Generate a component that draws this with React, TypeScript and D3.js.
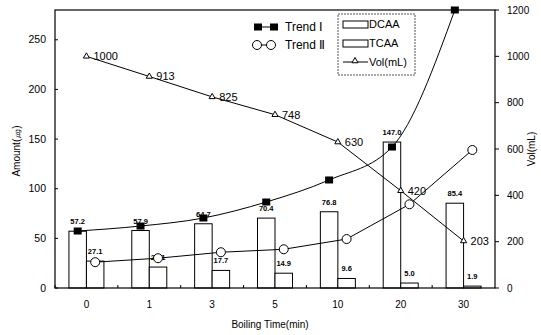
import * as d3 from "d3";

const width = 541;
const height = 335;
const marginLeft = 55;
const marginRight = 46;
const marginTop = 10;
const marginBottom = 47;

const times = ["0", "1", "3", "5", "10", "20", "30"];
const dcaa = [57.2, 57.9, 64.7, 70.4, 76.8, 147.0, 85.4];
const tcaa = [27.1, 21.1, 17.7, 14.9, 9.6, 5.0, 1.9];
const trend1 = [57.4, 62.4, 70.5, 86.6, 108.8, 142, 280];
const trend2 = [26, 30, 36, 39, 49.3, 84.3, 139];
const vol = [1000, 913, 825, 748, 630, 420, 203];
const leftTicks = [0, 50, 100, 150, 200, 250];
const rightTicks = [0, 200, 400, 600, 800, 1000, 1200];

const font = "'Liberation Sans', Arial, sans-serif";

export default function App() {
  const x = d3
    .scaleBand()
    .domain(times)
    .range([marginLeft, width - marginRight])
    .padding(0);
  const yL = d3.scaleLinear().domain([0, 280]).range([height - marginBottom, marginTop]);
  const yR = d3.scaleLinear().domain([0, 1200]).range([height - marginBottom, marginTop]);

  const barW = 17.5;
  const cx = (t: string) => (x(t) as number) + x.bandwidth() / 2;
  const bottom = height - marginBottom;

  const trend1Line = d3
    .line<number>()
    .x((_, i) => cx(times[i]) - barW / 2)
    .y((d) => yL(d))
    .curve(d3.curveMonotoneX);
  const trend2Line = d3
    .line<number>()
    .x((_, i) => cx(times[i]) + barW / 2)
    .y((d) => yL(d));
  const volLine = d3
    .line<number>()
    .x((_, i) => cx(times[i]))
    .y((d) => yR(d));

  const tri = d3.symbol(d3.symbolTriangle, 16)() as string;

  return (
    <svg
      width={width}
      height={height}
      style={{ position: "absolute", left: 0, top: 0, background: "#fff" }}
      fontFamily={font}
    >
      <defs>
        <clipPath id="plot">
          <rect x={marginLeft} y={marginTop - 4} width={width - marginLeft - marginRight} height={bottom - marginTop + 4} />
        </clipPath>
      </defs>

      {/* bars */}
      <g fill="#fff" stroke="#000" strokeWidth={1}>
        {times.map((t, i) => (
          <g key={t}>
            <rect x={cx(t) - barW} y={yL(dcaa[i])} width={barW} height={bottom - yL(dcaa[i])} />
            <rect x={cx(t)} y={yL(tcaa[i])} width={barW} height={bottom - yL(tcaa[i])} />
          </g>
        ))}
      </g>

      {/* bar labels */}
      <g fontSize={7.5} fontWeight="bold" textAnchor="middle" fill="#000">
        {times.map((t, i) => (
          <g key={t}>
            <text x={cx(t) - barW / 2} y={yL(dcaa[i]) - 7}>{dcaa[i].toFixed(1)}</text>
            <text x={cx(t) + barW / 2} y={yL(tcaa[i]) - 7}>{tcaa[i].toFixed(1)}</text>
          </g>
        ))}
      </g>

      {/* lines */}
      <g clipPath="url(#plot)" fill="none" stroke="#000" strokeWidth={1}>
        <path d={trend1Line(trend1) as string} />
        <path d={trend2Line(trend2) as string} />
        <path d={volLine(vol) as string} />
      </g>

      {/* markers */}
      <g clipPath="url(#plot)">
        {trend1.map((v, i) => (
          <rect key={i} x={cx(times[i]) - barW / 2 - 4} y={yL(v) - 3.5} width={8} height={7} fill="#000" />
        ))}
      </g>
      {trend2.map((v, i) => (
        <circle key={i} cx={cx(times[i]) + barW / 2} cy={yL(v)} r={4.5} fill="#fff" stroke="#000" />
      ))}
      {vol.map((v, i) => (
        <g key={i} transform={`translate(${cx(times[i])},${yR(v)})`}>
          <path d={tri} fill="#fff" stroke="#000" />
          <text x={7} dy="0.35em" fontSize={11} fill="#000">{v}</text>
        </g>
      ))}

      {/* frame */}
      <rect
        x={marginLeft}
        y={marginTop}
        width={width - marginLeft - marginRight}
        height={bottom - marginTop}
        fill="none"
        stroke="#000"
        strokeWidth={1.2}
      />

      {/* left axis */}
      <g fontSize={10.5} textAnchor="end">
        {leftTicks.map((v) => (
          <g key={v}>
            <line x1={marginLeft} x2={marginLeft + 3} y1={yL(v)} y2={yL(v)} stroke="#000" />
            <text x={marginLeft - 9} y={yL(v)} dy="0.35em">{v}</text>
          </g>
        ))}
      </g>
      <text
        transform={`translate(20,${151}) rotate(-90)`}
        textAnchor="middle"
        fontSize={10}
      >
        Amount(㎍)
      </text>

      {/* right axis */}
      <g fontSize={10} textAnchor="start">
        {rightTicks.map((v) => (
          <g key={v}>
            <line x1={width - marginRight} x2={width - marginRight + 4} y1={yR(v)} y2={yR(v)} stroke="#000" />
            <text x={width - marginRight + 12} y={yR(v)} dy="0.35em">{v}</text>
          </g>
        ))}
      </g>
      <text
        transform={`translate(535,${149}) rotate(-90)`}
        textAnchor="middle"
        fontSize={10}
      >
        Vol(mL)
      </text>

      {/* bottom axis */}
      <g fontSize={10} textAnchor="middle">
        {times.map((t) => (
          <g key={t}>
            <line x1={x(t) as number} x2={x(t) as number} y1={bottom} y2={bottom - 3} stroke="#000" />
            <text x={cx(t)} y={bottom + 20}>{t}</text>
          </g>
        ))}
      </g>
      <text x={270} y={328} textAnchor="middle" fontSize={10}>
        Boiling Time(min)
      </text>

      {/* legend: trends */}
      <g fontSize={12}>
        <line x1={258} x2={274} y1={27} y2={27} stroke="#000" />
        <rect x={254} y={23.5} width={8} height={7} fill="#000" />
        <rect x={270} y={23.5} width={8} height={7} fill="#000" />
        <text x={285} y={27} dy="0.35em">Trend Ⅰ</text>
        <line x1={257} x2={271} y1={45} y2={45} stroke="#000" />
        <circle cx={257} cy={45} r={4.5} fill="#fff" stroke="#000" />
        <circle cx={271} cy={45} r={4.5} fill="#fff" stroke="#000" />
        <text x={285} y={45} dy="0.35em">Trend Ⅱ</text>
      </g>

      {/* legend: box */}
      <g fontSize={11}>
        <rect x={338} y={14} width={77} height={61} fill="#fff" stroke="#555" strokeDasharray="2,1" />
        <rect x={343} y={21} width={25} height={7} fill="#fff" stroke="#000" />
        <text x={369} y={24.5} dy="0.35em">DCAA</text>
        <rect x={343} y={40} width={25} height={7} fill="#fff" stroke="#000" />
        <text x={369} y={43.5} dy="0.35em">TCAA</text>
        <line x1={343} x2={368} y1={62} y2={62} stroke="#000" />
        <path d={tri} transform="translate(355,61)" fill="#fff" stroke="#000" />
        <text x={369} y={62} dy="0.35em">Vol(mL)</text>
      </g>
    </svg>
  );
}
